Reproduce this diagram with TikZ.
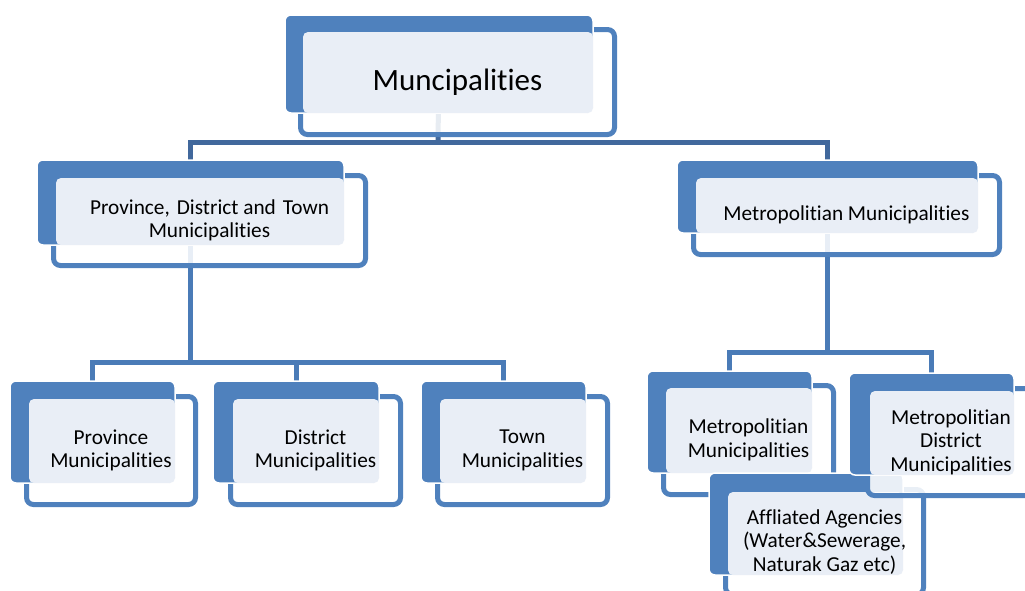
\documentclass[tikz,border=0pt]{standalone}
\usepackage{fontspec}
\setmainfont{Carlito}[Ligatures={NoCommon,NoDiscretionary,NoRare}]
\usetikzlibrary{fit}
\definecolor{accent}{HTML}{4F81BD}
\definecolor{lightc}{HTML}{E9EEF6}
\definecolor{connA}{HTML}{41689C}
\definecolor{connB}{HTML}{4A7BB7}
\tikzset{
  outl/.style={draw=accent, line width=5pt, fill=white, fill opacity=0.88, draw opacity=1, rounded corners=7pt, inner sep=0pt},
  darkbox/.style={fill=accent, draw=white, line width=1.5pt, rounded corners=6pt, inner sep=0pt},
  lightfill/.style={fill=lightc, rounded corners=5pt},
  conn/.style={line width=5pt, draw=connB},
  connTop/.style={line width=5pt, draw=connA},
  txt/.style={text=black, align=center, inner sep=0pt, font=\fontsize{21.3}{23.5}\selectfont},
  title/.style={text=black, align=center, inner sep=0pt, font=\fontsize{31}{36}\selectfont},
}
% #1 name, #2-#5 outline outer box, #6-#9 dark box
\newcommand\orgunit[9]{%
  \node[outl, fit={(#2+2.5,#3+2.5)(#4-2.5,#5-2.5)}] (#1-o) {};
  \node[darkbox, fit={(#6,#7)(#8,#9)}] (#1-d) {};
  \fill[lightfill] (#2+5,#3+5) rectangle (#8,#9);
}
\begin{document}
\begin{tikzpicture}[x=1pt,y=-1pt]
\useasboundingbox (0,0) rectangle (1025,590);
\clip (0,0) rectangle (1025,590);
% junction points
\coordinate (b1) at (438,142);
\coordinate (b2) at (190.5,362);
\coordinate (b3) at (827.5,352);
% attachment points (centres of the dark boxes)
\path (439,64) coordinate (topc) (190.5,202) coordinate (lmc) (827.5,196) coordinate (rmc);
\path (92.5,432) coordinate (provc) (296,432) coordinate (distc) (503.5,432) coordinate (townc);
\path (729.5,422) coordinate (mmc) (931.5,424) coordinate (mdc);
% connectors (drawn first, behind boxes)
\draw[connTop] (topc) -- (b1);
\draw[connTop] (lmc) |- (b1) -| (rmc);
\draw[conn] (lmc) -- (b2);
\draw[conn] (provc) |- (b2) -| (townc);
\draw[conn] (distc) -- (distc |- b2);
\draw[conn] (rmc) -- (b3);
\draw[conn] (mmc) |- (b3) -| (mdc);
% boxes
\orgunit{top}{298}{27}{617}{137}{285}{15}{593}{113}
\orgunit{lm}{51}{173}{368}{268}{37}{160}{344}{245}
\orgunit{rm}{691}{173}{1002}{257}{677}{160}{978}{233}
\orgunit{prov}{24}{394}{198}{507}{10}{381}{175}{483}
\orgunit{dist}{228}{394}{403}{507}{213}{381}{379}{483}
\orgunit{town}{435}{394}{610}{507}{421}{381}{586}{483}
\orgunit{mm}{661}{383}{836}{497}{647}{371}{812}{473}
\orgunit{aff}{723}{487}{926}{597}{709}{473}{903}{575}
\orgunit{md}{865}{386}{1037}{498}{849}{373}{1014}{475}
% texts
\node[title] (top-t) at (top-o.center) {Muncipalities};
\node[txt] (lm-t) at (lm-o.center) {Province,\hspace{7pt}District and\hspace{7pt}Town\\Municipalities};
\node[txt] (rm-t) at (rm-o.center) {Metropolitian Municipalities};
\node[txt] (prov-t) at (prov-o.center) {Province\\Municipalities};
\node[txt] (dist-t) at (dist-o.center) {District\\Municipalities};
\node[txt] (town-t) at (town-o.center) {Town\\Municipalities};
\node[txt] (mm-t) at (mm-o.center) {Metropolitian\\Municipalities};
\node[txt] (md-t) at (md-o.center) {Metropolitian\\District\\Municipalities};
\node[txt] (aff-t) at (aff-o.center) {Affliated Agencies\\(Water\&Sewerage,\\Naturak Gaz etc)};
\end{tikzpicture}
\end{document}
